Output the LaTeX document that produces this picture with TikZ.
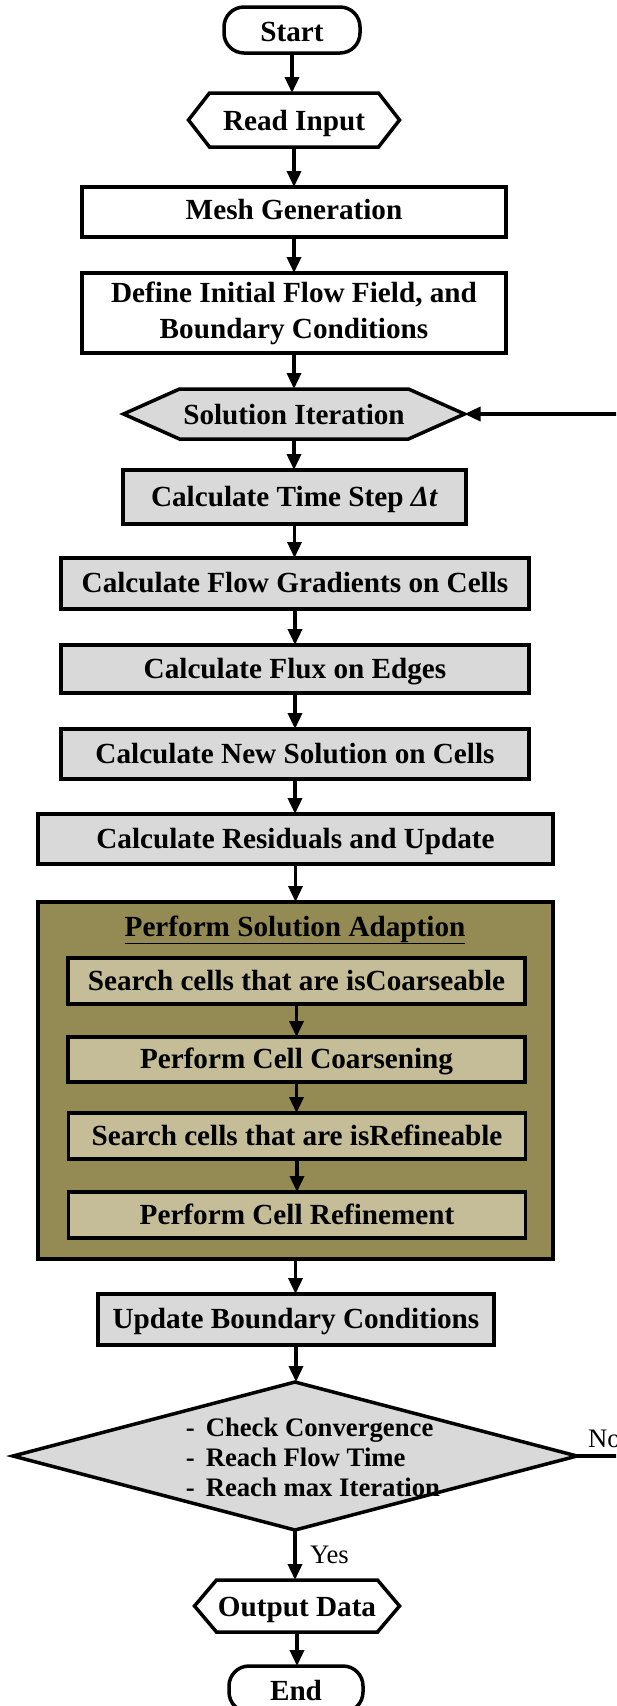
\documentclass[tikz,border=0pt]{standalone}
\usepackage{fontspec}
\setmainfont{Liberation Serif}
\usetikzlibrary{arrows.meta,backgrounds,calc,shapes.geometric}
\definecolor{boxgray}{RGB}{217,217,217}
\definecolor{adaptolive}{RGB}{148,138,84}
\definecolor{adapttan}{RGB}{196,189,151}
\newcommand{\flowfont}{\fontsize{29.2pt}{36pt}\selectfont\bfseries}
\newcommand{\checkfont}{\fontsize{26.7pt}{30pt}\selectfont\bfseries}
\newcommand{\answerfont}{\fontsize{26.7pt}{30pt}\selectfont}
% outline of a hexagon round a named node: node, tip depth, fill
\newcommand{\hexoutline}[3]{%
  \draw [line width=3.5pt, fill=#3] ([xshift=-#2]#1.west) -- (#1.north west)
        -- (#1.north east) -- ([xshift=#2]#1.east) -- (#1.south east)
        -- (#1.south west) -- cycle;}
\tikzset{
    % standard arrow tip
    >={Triangle[length=16pt,width=14pt]},
    % arrow style
    arr/.style={
           ->,
           line width=3.5pt},
    % boxes
    procbox/.style={
           draw, rectangle, line width=3.5pt, inner sep=0pt, align=center,
           font=\flowfont, text height=22pt, text depth=4pt,
           minimum height=50pt},
    terminal/.style={procbox, rounded corners=20pt, minimum height=46pt,
           text height=23pt, text depth=1pt},
    hexcore/.style={rectangle, inner sep=0pt, font=\flowfont,
           text height=23pt, text depth=2pt},
    stepbox/.style={procbox, line width=3.8pt, fill=adapttan, minimum width=457pt,
           minimum height=46pt},
    yesno/.style={font=\answerfont, inner sep=0pt}
}
\begin{document}
\begin{tikzpicture}[x=1pt, y=-1pt, outer sep=0pt]

\useasboundingbox (0,0) rectangle (616,1706);
\clip (0,0) rectangle (616,1706);

% set up
\node [terminal, minimum width=136pt] (start) at (292,30) {Start};
\node [hexcore, minimum width=169pt, minimum height=54pt] (read) at (294,120) {Read Input};
\node [procbox, minimum width=424pt, text height=20pt, text depth=6pt] (mesh) at (294,212) {Mesh Generation};
\node [procbox, minimum width=424pt, minimum height=80pt, text height=, text depth=]
      (init) at (294,313) {Define Initial Flow Field, and\\Boundary Conditions};

% solver loop
\node [hexcore, minimum width=229pt, minimum height=50pt] (iter) at (294,414) {Solution Iteration};
\node [procbox, fill=boxgray, minimum width=343pt, minimum height=54pt] (tstep) at (294.5,497)
      {Calculate Time Step \textit{Δt}};
\node [procbox, fill=boxgray, minimum width=468pt, minimum height=51pt] (grad) at (295,583.5)
      {Calculate Flow Gradients on Cells};
\node [procbox, fill=boxgray, minimum width=468pt, minimum height=48pt] (flux) at (295,669)
      {Calculate Flux on Edges};
\node [procbox, fill=boxgray, minimum width=468pt] (newsol) at (295,754)
      {Calculate New Solution on Cells};
\node [procbox, fill=boxgray, minimum width=515pt] (resid) at (295.5,839)
      {Calculate Residuals and Update};

% adaption block
\node [draw, line width=3.8pt, fill=adaptolive, minimum width=515pt, minimum height=357pt]
      (adapt) at (295.5,1080.5) {};
\node [font=\flowfont, inner sep=0pt, anchor=base] (adapttitle) at (295,936)
      {\underline{Perform Solution Adaption}};
\node [stepbox] (coarse)    at (296.5,981)  {Search cells that are isCoarseable};
\node [stepbox, minimum height=45pt] (coarsen) at (296.5,1059.5) {Perform Cell Coarsening};
\node [stepbox] (refinable) at (297,1136)   {Search cells that are isRefineable};
\node [stepbox] (refine)    at (297,1215)   {Perform Cell Refinement};

% convergence and output
\node [procbox, fill=boxgray, minimum width=396pt, minimum height=51pt] (update) at (296,1319.5)
      {Update Boundary Conditions};
\node [diamond, draw, line width=3.5pt, fill=boxgray, inner sep=0pt,
       minimum width=564pt, minimum height=148pt] (check) at (295,1456) {};
\node [font=\checkfont, inner sep=0pt, align=left] (checktext) at (313,1457)
      {-\hspace{11pt}Check Convergence\\-\hspace{11pt}Reach Flow Time\\-\hspace{11pt}Reach max Iteration};
\node [hexcore, minimum width=161pt, minimum height=52pt] (output) at (297,1606) {Output Data};
\node [terminal, minimum width=134pt] (finish) at (296,1689) {End};

% hexagons
\begin{scope}[on background layer]
\hexoutline{read}{21pt}{white}
\hexoutline{iter}{56pt}{boxgray}
\hexoutline{output}{22pt}{white}
\end{scope}

% connectors
\foreach \a/\b in {start/read, read/mesh, mesh/init, init/iter, iter/tstep,
                   tstep/grad, grad/flux, flux/newsol, newsol/resid, resid/adapt,
                   coarse/coarsen, coarsen/refinable, refinable/refine,
                   adapt/update, update/check, output/finish}
  \draw [arr] (\a.south) -- (\a.south |- \b.north);

\draw [arr] (check.south) -- node [yesno, right=15pt] {Yes} (check.south |- output.north);

\coordinate (itertip) at ([xshift=56pt]iter.east);
\draw [arr] (check.east) -- node [yesno, pos=0, anchor=south west, xshift=11pt, yshift=8pt] {No}
      ++(80,0) |- (itertip);

\end{tikzpicture}
\end{document}
